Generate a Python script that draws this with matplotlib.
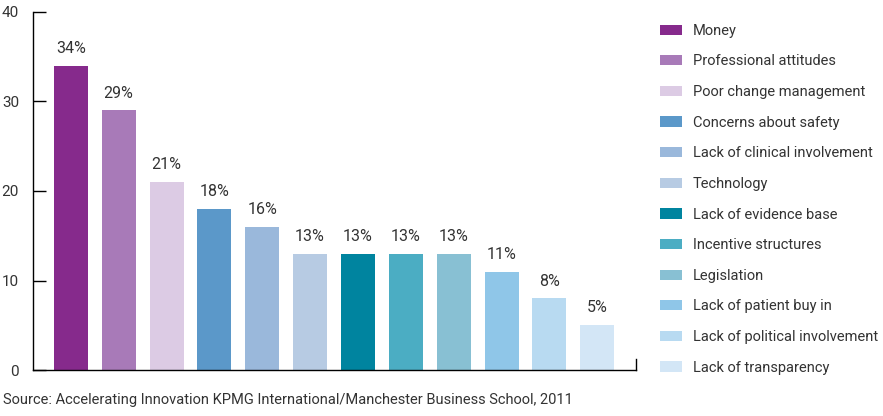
import matplotlib
matplotlib.use("Agg")
import matplotlib.pyplot as plt
from matplotlib.patches import Patch

categories = ["Money", "Professional attitudes", "Poor change management",
              "Concerns about safety", "Lack of clinical involvement", "Technology",
              "Lack of evidence base", "Incentive structures", "Legislation",
              "Lack of patient buy in", "Lack of political involvement",
              "Lack of transparency"]
values = [34, 29, 21, 18, 16, 13, 13, 13, 13, 11, 8, 5]
colors = ["#862a8c", "#a87ab8", "#dccbe4", "#5b98c9", "#9ab8db", "#b7cbe3",
          "#00849f", "#4badc3", "#88c0d3", "#8fc6e8", "#b8daf1", "#d3e6f6"]
yticks = [0, 10, 20, 30, 40]
source = "Source: Accelerating Innovation KPMG International/Manchester Business School, 2011"

plt.rcParams['font.family'] = ['Liberation Sans Narrow', 'Roboto', 'DejaVu Sans']
txt = "#333333"

fig = plt.figure(figsize=(8.83, 4.16), dpi=100)
ax = fig.add_axes([33/883, 1-370/416, (636-33)/883, (370-12)/416])
x = list(range(len(values)))
bars = ax.bar(x, values, width=0.71, color=colors)
for xi, v in zip(x, values):
    ax.text(xi, v + 1.1, f"{v}%", ha="center", va="bottom", fontsize=11.5, color=txt)

ax.set_xlim(-0.79, 11.81)
ax.set_ylim(0, 40)
ax.set_yticks(yticks)
ax.set_yticklabels([str(t) for t in yticks], fontsize=11, color=txt)
ax.tick_params(axis="y", direction="in", length=9, width=1, pad=10)
ax.set_xticks([])
ax.spines["top"].set_visible(False)
ax.spines["right"].set_bounds(0, 1.2)
for s in ["left", "bottom", "right"]:
    ax.spines[s].set_linewidth(1)

handles = [Patch(facecolor=c, edgecolor="none") for c in colors]
leg = fig.legend(handles, categories, loc="upper left",
                 bbox_to_anchor=(654/883, 1-18/416), frameon=False,
                 fontsize=10.5, labelspacing=1.14, handlelength=1.55,
                 handleheight=0.7, handletextpad=0.7, borderaxespad=0)
for t in leg.get_texts():
    t.set_color(txt)

fig.text(3/883, 1-400/416, source, fontsize=10.5, color=txt, va="center", ha="left")
fig.savefig("out.png", dpi=100)
